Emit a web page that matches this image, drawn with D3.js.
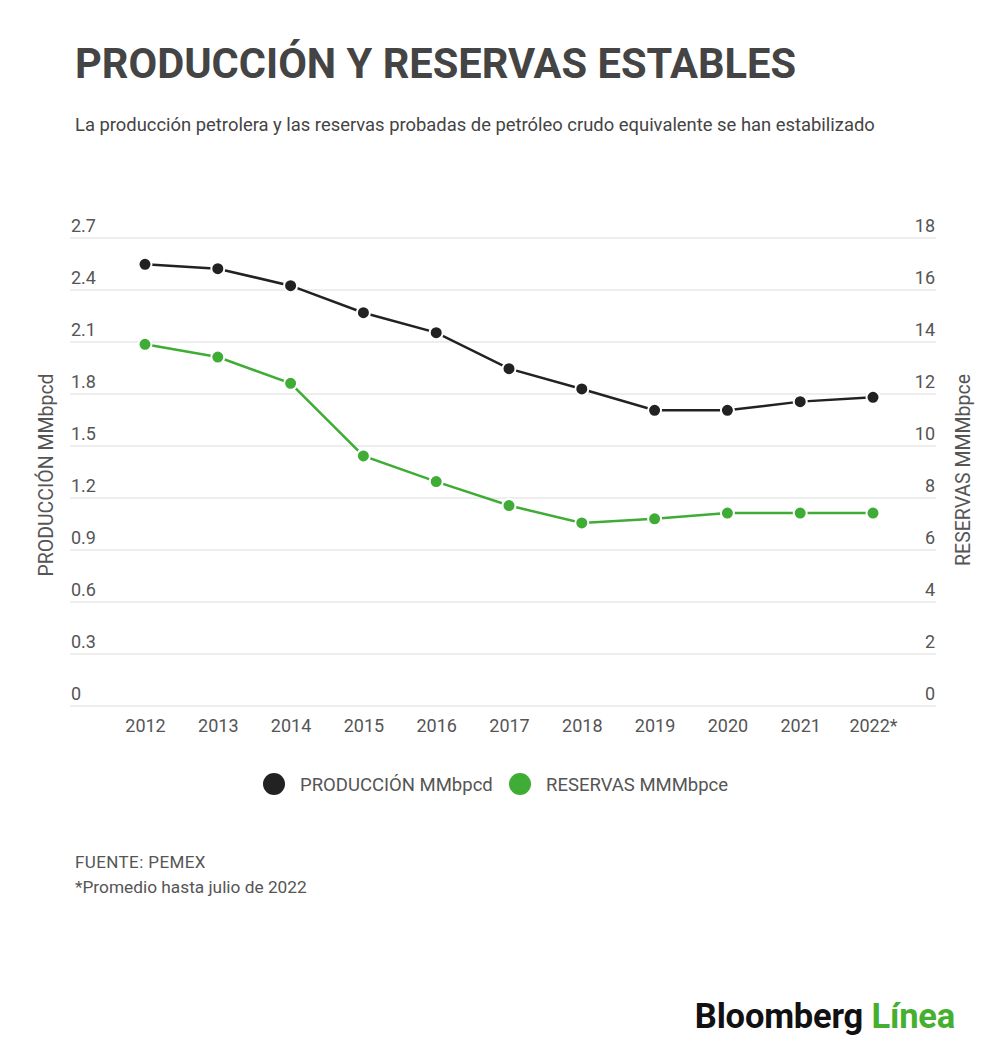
<!DOCTYPE html>
<html>
<head>
<meta charset="utf-8">
<script src="https://cdn.jsdelivr.net/npm/d3@7"></script>
<style>
  body { margin: 0; background: #fff; }
  text { font-family: Roboto, "Noto Sans", sans-serif; }
</style>
</head>
<body>
<div id="chart"></div>
<script>
const years = ["2012", "2013", "2014", "2015", "2016", "2017", "2018", "2019", "2020", "2021", "2022*"];
const produccion = [2.548, 2.523, 2.425, 2.269, 2.154, 1.946, 1.829, 1.706, 1.706, 1.756, 1.781];
const reservas = [13.91, 13.42, 12.41, 9.62, 8.63, 7.71, 7.04, 7.20, 7.42, 7.42, 7.42];
const leftTicks = [0, 0.3, 0.6, 0.9, 1.2, 1.5, 1.8, 2.1, 2.4, 2.7];
const rightTicks = [0, 2, 4, 6, 8, 10, 12, 14, 16, 18];

const W = 1000, H = 1058;
const black = "#222222", green = "#3fac35";

const svg = d3.select("#chart").append("svg")
  .attr("width", W)
  .attr("height", H);

// titles
svg.append("text")
  .attr("x", 75).attr("y", 78)
  .attr("font-size", 41.6).attr("font-weight", 700)
  .attr("fill", "#444")
  .text("PRODUCCIÓN Y RESERVAS ESTABLES");

svg.append("text")
  .attr("x", 75).attr("y", 131)
  .attr("font-size", 18.4)
  .attr("fill", "#444")
  .text("La producción petrolera y las reservas probadas de petróleo crudo equivalente se han estabilizado");

// scales
const x = d3.scalePoint().domain(years).range([145, 873]);
const y = d3.scaleLinear().domain([0, 2.7]).range([706, 238]);
const y2 = d3.scaleLinear().domain([0, 18]).range([706, 238]);

const gridL = 70, gridR = 936;

// grid lines
svg.append("g")
  .selectAll("line")
  .data(leftTicks)
  .join("line")
  .attr("x1", gridL).attr("x2", gridR)
  .attr("y1", d => y(d)).attr("y2", d => y(d))
  .attr("stroke", "#dcdcdc").attr("stroke-width", 1);

// left tick labels
svg.append("g")
  .selectAll("text")
  .data(leftTicks)
  .join("text")
  .attr("x", 71).attr("y", d => y(d) - 6)
  .attr("font-size", 18).attr("fill", "#555")
  .text(d => d === 0 ? "0" : d3.format(".1f")(d));

// right tick labels
svg.append("g")
  .selectAll("text")
  .data(rightTicks)
  .join("text")
  .attr("x", 935).attr("y", d => y2(d) - 6)
  .attr("text-anchor", "end")
  .attr("font-size", 18).attr("fill", "#555")
  .text(d => d);

// x axis
const xAxis = svg.append("g")
  .attr("transform", "translate(0,706)")
  .call(d3.axisBottom(x).tickSize(0).tickPadding(13));
xAxis.select(".domain").remove();
xAxis.selectAll("text")
  .attr("font-size", 18).attr("fill", "#555")
  .attr("font-family", "Roboto, sans-serif");

// axis titles
svg.append("text")
  .attr("transform", "translate(53,475) rotate(-90)")
  .attr("text-anchor", "middle")
  .attr("font-size", 19.5).attr("fill", "#555")
  .text("PRODUCCIÓN MMbpcd");

svg.append("text")
  .attr("transform", "translate(970,470) rotate(-90)")
  .attr("text-anchor", "middle")
  .attr("font-size", 19.5).attr("fill", "#555")
  .text("RESERVAS MMMbpce");

// lines
const series = [
  { values: produccion, scale: y, color: black },
  { values: reservas, scale: y2, color: green }
];

series.forEach(s => {
  const pts = years.map((yr, i) => ({ yr, v: s.values[i] }));
  svg.append("path")
    .datum(pts)
    .attr("fill", "none")
    .attr("stroke", s.color)
    .attr("stroke-width", 2.5)
    .attr("d", d3.line()
      .x(d => x(d.yr))
      .y(d => s.scale(d.v)));

  svg.append("g")
    .selectAll("circle")
    .data(pts)
    .join("circle")
    .attr("cx", d => x(d.yr))
    .attr("cy", d => s.scale(d.v))
    .attr("r", 6.5)
    .attr("fill", s.color)
    .attr("stroke", "#fff")
    .attr("stroke-width", 2);
});

// legend
const legend = [
  { label: "PRODUCCIÓN MMbpcd", color: black, x: 274 },
  { label: "RESERVAS MMMbpce", color: green, x: 520 }
];
const lg = svg.append("g")
  .selectAll("g")
  .data(legend)
  .join("g")
  .attr("transform", d => `translate(${d.x},784)`);
lg.append("circle").attr("r", 11).attr("fill", d => d.color);
lg.append("text")
  .attr("x", 26).attr("y", 6.5)
  .attr("font-size", 18.5).attr("fill", "#555")
  .text(d => d.label);

// footer
svg.append("text")
  .attr("x", 75).attr("y", 868)
  .attr("font-size", 17).attr("fill", "#555")
  .attr("letter-spacing", 0.4)
  .text("FUENTE: PEMEX");
svg.append("text")
  .attr("x", 75).attr("y", 893)
  .attr("font-size", 17.3).attr("fill", "#555")
  .text("*Promedio hasta julio de 2022");

// logo
const logo = svg.append("text")
  .attr("x", 955).attr("y", 1028)
  .attr("text-anchor", "end")
  .attr("font-size", 34.5).attr("font-weight", 700)
  .attr("letter-spacing", -0.2)
  .attr("font-family", "'Liberation Sans', Arial, sans-serif");
logo.append("tspan").attr("fill", "#111").text("Bloomberg ");
logo.append("tspan").attr("fill", "#45b02f").text("Línea");
</script>
</body>
</html>
